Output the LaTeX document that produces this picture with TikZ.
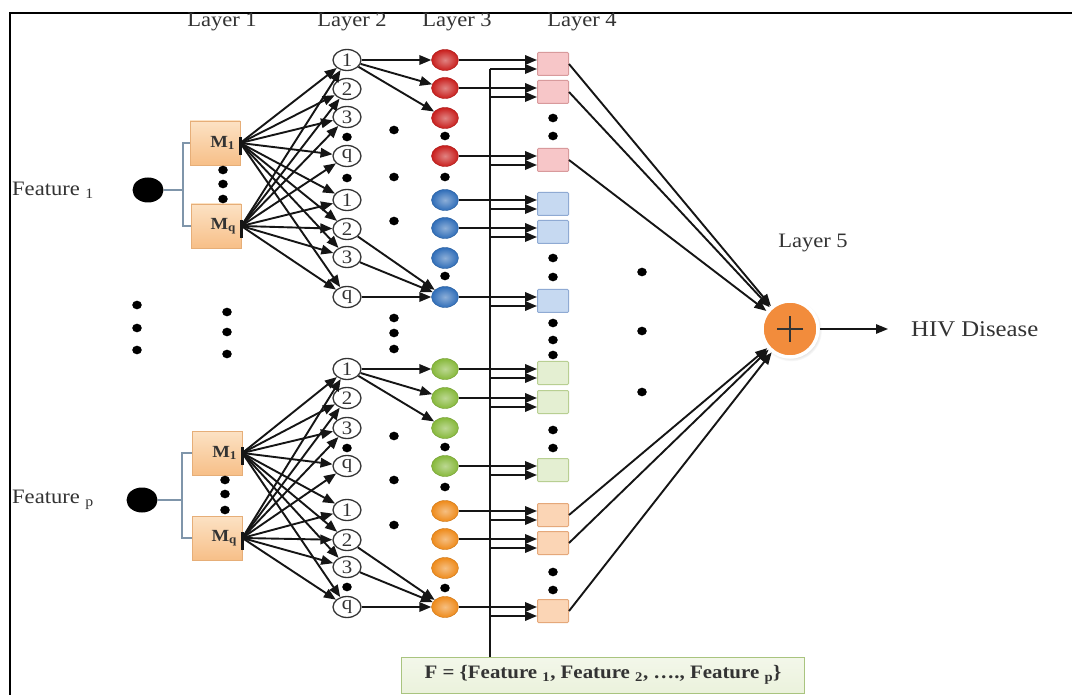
\documentclass[tikz,border=0pt]{standalone}
\usepackage{fontspec}
\setmainfont{Liberation Serif}[FakeStretch=1.1]
\usetikzlibrary{arrows.meta,shapes.geometric,calc,shadows}
\definecolor{lk}{HTML}{151515}
\definecolor{txt}{HTML}{333333}
\definecolor{mtop}{HTML}{FCE2C4}
\definecolor{mbot}{HTML}{F7BF88}
\definecolor{mbrd}{HTML}{E6AE78}
\definecolor{redb}{HTML}{C81E1C}
\definecolor{blueb}{HTML}{2F6DB8}
\definecolor{greenb}{HTML}{86B83A}
\definecolor{orangeb}{HTML}{EE8A1A}
\definecolor{rsqf}{HTML}{F7C6C8}\definecolor{rsqd}{HTML}{D89A9C}
\definecolor{bsqf}{HTML}{C6D9F1}\definecolor{bsqd}{HTML}{8FAAD3}
\definecolor{gsqf}{HTML}{E4EFD2}\definecolor{gsqd}{HTML}{B8CF92}
\definecolor{osqf}{HTML}{FBD5B5}\definecolor{osqd}{HTML}{E5A87A}
\definecolor{ffill}{HTML}{EBF2DC}\definecolor{fdraw}{HTML}{A9C47F}
\definecolor{brk}{HTML}{7F95AA}
\definecolor{lfive}{HTML}{F28C3C}
\newcommand\dotat[2]{\fill[black] (#1,#2) ellipse (4.8pt and 4.3pt);}
\begin{document}
\begin{tikzpicture}[x=1pt,y=-1pt,
  arr/.style={draw=lk, line width=1.9pt, -{Triangle[length=12pt,width=9.5pt]}},
  ln/.style={draw=lk, line width=1.9pt},
  lbl/.style={text=txt, font=\fontsize{20.5}{21}\selectfont, inner sep=0pt},
  mbox/.style={rectangle, draw=mbrd, line width=0.6pt, top color=mtop, bottom color=mbot,
    text width=40pt, align=right, inner sep=5pt, minimum height=44pt,
    font=\bfseries\fontsize{17}{17}\selectfont, text=txt},
  circ/.style={ellipse, draw=black!80, fill=white, line width=1.3pt, minimum width=28pt,
    minimum height=21pt, inner sep=0pt, font=\fontsize{19}{19}\selectfont, text=txt},
  ball/.style={ellipse, minimum width=27pt, minimum height=21pt, inner sep=0pt,
    shading=radial, inner color=#1!55!white, outer color=#1, draw=#1!85!black, line width=0.4pt},
  sq/.style n args={2}{rectangle, minimum width=31pt, minimum height=23pt, inner sep=0pt,
    fill=#1, draw=#2, line width=1pt, rounded corners=1pt},
  fdot/.style={ellipse, fill=black, minimum width=31pt, minimum height=25pt, inner sep=0pt},
  brkl/.style={draw=brk, line width=1.2pt}
]
\useasboundingbox (0,0) rectangle (1072,695);
\fill[white] (0,0) rectangle (1072,695);
\draw[line width=2pt, black] (10,695) -- (10,13) -- (1072,13);

% layer labels
\node[lbl] (l1) at (222,22) {Layer 1};
\node[lbl] (l2) at (352,22) {Layer 2};
\node[lbl] (l3) at (457,22) {Layer 3};
\node[lbl] (l4) at (582,22) {Layer 4};
\node[lbl] (l5) at (813,243) {Layer 5};

% features
\node[lbl, anchor=west] (fta) at (12,190) {Feature \textsubscript{1}};
\node[lbl, anchor=west] (ftb) at (12,500) {Feature \textsubscript{p}};
\node[fdot] (fa) at (148,190) {};
\node[fdot] (fb) at (142,500) {};

% M boxes
\node[mbox] (m1a) at (215,143) {M\textsubscript{1}};
\node[mbox] (mqa) at (216,226) {M\textsubscript{q}};
\node[mbox] (m1b) at (217,453) {M\textsubscript{1}};
\node[mbox] (mqb) at (217,538) {M\textsubscript{q}};

% brackets
\coordinate (bra) at (183,190);
\coordinate (brb) at (182,500);
\draw[brkl] (fa.east) -- (bra);
\draw[brkl] (m1a.west) -| (bra) |- (mqa.west);
\draw[brkl] (fb.east) -- (brb);
\draw[brkl] (m1b.west) -| (brb) |- (mqb.west);

% layer 2 circles
\foreach \i/\y/\t in {1/60/1,2/89/2,3/117/3,4/156/q,5/200/1,6/229/2,7/257/3,8/297/q}
  \node[circ] (ca\i) at (347,\y) {\t};
\foreach \i/\y/\t in {1/369/1,2/398/2,3/428/3,4/466/q,5/510/1,6/540/2,7/567/3,8/607/q}
  \node[circ] (cb\i) at (347,\y) {\t};

% layer 3 balls
\foreach \i/\y/\c in {1/60/redb,2/88/redb,3/118/redb,4/156/redb,5/200/blueb,6/228/blueb,7/258/blueb,8/297/blueb}
  \node[ball=\c] (ba\i) at (445,\y) {};
\foreach \i/\y/\c in {1/369/greenb,2/398/greenb,3/428/greenb,4/466/greenb,5/511/orangeb,6/539/orangeb,7/568/orangeb,8/607/orangeb}
  \node[ball=\c] (bb\i) at (445,\y) {};

% layer 4 squares
\foreach \i/\y/\f/\d in {1/64/rsqf/rsqd,2/92/rsqf/rsqd,3/160/rsqf/rsqd,4/204/bsqf/bsqd,5/232/bsqf/bsqd,6/301/bsqf/bsqd}
  \node[sq={\f}{\d}] (sa\i) at (553,\y) {};
\foreach \i/\y/\f/\d in {1/373/gsqf/gsqd,2/402/gsqf/gsqd,3/470/gsqf/gsqd,4/515/osqf/osqd,5/543/osqf/osqd,6/611/osqf/osqd}
  \node[sq={\f}{\d}] (sb\i) at (553,\y) {};

% layer 5
\node[circle, minimum size=56pt, inner sep=0pt, fill=lfive, draw=white, line width=3.5pt,
  circular drop shadow={shadow xshift=1pt, shadow yshift=-1.5pt, opacity=0.25}] (L5) at (790,329) {};
\draw[line width=1.6pt, draw=black!80] ([xshift=-13pt]L5.center) -- ([xshift=13pt]L5.center);
\draw[line width=1.6pt, draw=black!80] ([yshift=-13pt]L5.center) -- ([yshift=13pt]L5.center);
\coordinate (hiv) at (888,329);
\draw[arr, line width=1.4pt] (L5) -- (hiv);
\node[lbl, anchor=west, font=\fontsize{22.5}{23}\selectfont] (hivt) at (911,329) {HIV Disease};

% F box
\node[rectangle, draw=fdraw, line width=1pt, top color=ffill!60!white, bottom color=ffill,
  minimum width=403pt, minimum height=36pt, inner sep=0pt, text=txt,
  font=\bfseries\fontsize{19}{19}\selectfont] (F) at (603,675)
  {F = \{Feature \textsubscript{1}, Feature \textsubscript{2}, …., Feature \textsubscript{p}\}};

% M -> layer 2
\foreach \m in {m1a,mqa}
  \foreach \i in {1,...,8}
    \draw[arr] (\m.east) -- (ca\i);
\foreach \m in {m1b,mqb}
  \foreach \i in {1,...,8}
    \draw[arr] (\m.east) -- (cb\i);
\foreach \m in {m1a,mqa,m1b,mqb}
  \draw[line width=2.4pt, lk] ([yshift=6pt]\m.east) -- ([yshift=-12pt]\m.east);

% layer 2 -> layer 3
\foreach \g in {a,b}{
  \foreach \j in {1,2,3} \draw[arr] (c\g1) -- (b\g\j);
  \foreach \j in {6,7,8} \draw[arr] (c\g\j) -- (b\g8);
}

% layer 3 -> layer 4
\foreach \g in {a,b}{
  \foreach \b/\s in {1/1,2/2,4/3,5/4,6/5,8/6}
    \draw[arr] (b\g\b) -- (b\g\b -| s\g\s.west);
}

% F line
\foreach \s in {sa1,sa2,sa3,sa4,sa5,sa6,sb1,sb2,sb3,sb4,sb5,sb6}
  \coordinate (\s-lo) at ($(\s.west)+(0,5)$);
\coordinate (fx) at (490,0);
\coordinate (ftop) at (fx |- sa1-lo);
\draw[ln] (ftop) -- (ftop |- F.north);
\draw[arr] (ftop) -- (sa1-lo);
\foreach \s in {sa2,sa3,sa4,sa5,sa6,sb1,sb2,sb3,sb4,sb5,sb6}
  \draw[arr] (ftop |- \s-lo) -- (\s-lo);

% layer 4 -> layer 5
\foreach \s in {sa1,sa2,sa3,sb4,sb5,sb6}
  \draw[arr] (\s.east) -- (L5);

% dots
\dotat{137}{305}\dotat{137}{328}\dotat{137}{350}
\dotat{227}{312}\dotat{227}{332}\dotat{227}{354}
\dotat{223}{170}\dotat{223}{184}\dotat{223}{199}
\dotat{225}{480}\dotat{225}{494}\dotat{225}{510}
\dotat{347}{137}\dotat{347}{178}\dotat{347}{448}\dotat{347}{587}
\foreach \y in {130,177,221,318,333,349,436,480,525} {\dotat{394}{\y}}
\foreach \y in {136,177,276,447,487,588} {\dotat{445}{\y}}
\foreach \y in {118,136,258,277,323,340,355,430,448,572,590} {\dotat{553}{\y}}
\foreach \y in {272,331,392} {\dotat{642}{\y}}
\end{tikzpicture}
\end{document}
